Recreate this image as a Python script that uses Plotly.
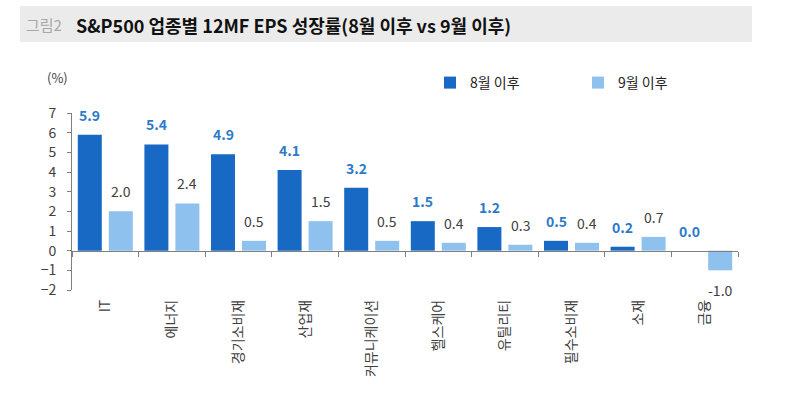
import plotly.graph_objects as go

categories = ["IT", "에너지", "경기소비재", "산업재", "커뮤니케이션", "헬스케어", "유틸리티", "필수소비재", "소재", "금융"]
since_aug = [5.9, 5.4, 4.9, 4.1, 3.2, 1.5, 1.2, 0.5, 0.2, 0.0]
since_sep = [2.0, 2.4, 0.5, 1.5, 0.5, 0.4, 0.3, 0.4, 0.7, -1.0]
series_names = ["8월 이후", "9월 이후"]
y_ticks = [-2, -1, 0, 1, 2, 3, 4, 5, 6, 7]

DARK = "#1769c4"
LIGHT = "#8fc1ef"
LABEL_BLUE = "#2d7bc9"
TEXT_GRAY = "#404040"
FONT = "Noto Sans CJK KR"

L, R, T, B = 72, 62, 113, 104
W, H = 800, 394
pw, ph = W - L - R, H - T - B

def px_x(x):
    return (x - L) / pw

def px_y(y):
    return (H - B - y) / ph

fig = go.Figure()
fig.add_trace(go.Bar(x=categories, y=since_aug, name=series_names[0],
                     marker=dict(color=DARK, line=dict(width=0)), hoverinfo="skip"))
fig.add_trace(go.Bar(x=categories, y=since_sep, name=series_names[1],
                     marker=dict(color=LIGHT, line=dict(width=0)), hoverinfo="skip"))
# helper trace for the zero-line axis with category boundary ticks
fig.add_trace(go.Scatter(x=categories, y=[0] * len(categories), xaxis="x2", yaxis="y",
                         mode="markers", marker=dict(opacity=0), showlegend=False,
                         hoverinfo="skip"))

annotations = []
half = 15.5
for c, v in zip(categories, since_aug):
    annotations.append(dict(x=c, y=v, xref="x", yref="y", text=f"{v:.1f}",
                            showarrow=False, xshift=-half, yshift=20 if v >= 0 else -20,
                            yanchor="middle",
                            font=dict(family=FONT, size=14, color=LABEL_BLUE, weight="bold")))
for c, v in zip(categories, since_sep):
    annotations.append(dict(x=c, y=v, xref="x", yref="y", text=f"{v:.1f}",
                            showarrow=False, xshift=half, yshift=20 if v >= 0 else -20,
                            yanchor="middle",
                            font=dict(family=FONT, size=14, color=TEXT_GRAY)))

annotations.append(dict(x=px_x(45), y=px_y(77), xref="paper", yref="paper", text="(%)",
                        showarrow=False, xanchor="left", yanchor="middle",
                        font=dict(family=FONT, size=13, color=TEXT_GRAY)))
annotations.append(dict(x=px_x(24), y=px_y(24.5), xref="paper", yref="paper",
                        text="그림2", showarrow=False, xanchor="left", yanchor="middle",
                        font=dict(family=FONT, size=15, color="#a8a8a8")))
annotations.append(dict(x=px_x(74), y=px_y(24.5), xref="paper", yref="paper",
                        text="<b>S&amp;P500 업종별 12MF EPS 성장률(8월 이후 vs 9월 이후)</b>",
                        showarrow=False, xanchor="left", yanchor="middle",
                        font=dict(family=FONT, size=18, color="#111111")))

shapes = [dict(type="rect", xref="paper", yref="paper",
               x0=px_x(20), x1=px_x(752), y0=px_y(42), y1=px_y(6),
               fillcolor="#ebebeb", line=dict(width=0), layer="below")]

fig.update_layout(
    width=W, height=H,
    margin=dict(l=L, r=R, t=T, b=B, autoexpand=False),
    paper_bgcolor="white", plot_bgcolor="white",
    font=dict(family=FONT, size=13, color=TEXT_GRAY),
    barmode="group", bargap=0.069, bargroupgap=0.226,
    showlegend=True,
    legend=dict(orientation="h", x=px_x(430), y=px_y(83), xanchor="left", yanchor="middle",
                entrywidth=103, entrywidthmode="pixels", itemwidth=30,
                font=dict(family=FONT, size=14, color="#222222"),
                bgcolor="rgba(0,0,0,0)"),
    xaxis=dict(type="category", range=[-0.5, len(categories) - 0.5], showline=False,
               ticks="", tickangle=-90, showgrid=False, zeroline=False,
               tickfont=dict(family=FONT, size=14, color=TEXT_GRAY), ticklabelstandoff=6),
    xaxis2=dict(type="category", overlaying="x", anchor="free",
                position=(0 - y_ticks[0]) / (y_ticks[-1] - y_ticks[0]),
                range=[-0.5, len(categories) - 0.5], showline=True, linecolor="#7f7f7f",
                linewidth=1, ticks="outside", ticklen=5, tickcolor="#7f7f7f",
                tickson="boundaries", showticklabels=False, showgrid=False, zeroline=False),
    yaxis=dict(range=[y_ticks[0], y_ticks[-1]], tickvals=y_ticks, showline=True,
               linecolor="#7f7f7f", linewidth=1, ticks="outside", ticklen=4,
               tickcolor="#7f7f7f", showgrid=False, zeroline=False,
               tickfont=dict(family=FONT, size=14, color=TEXT_GRAY), ticklabelstandoff=8),
    annotations=annotations,
    shapes=shapes,
)

fig.write_html("out.html")
